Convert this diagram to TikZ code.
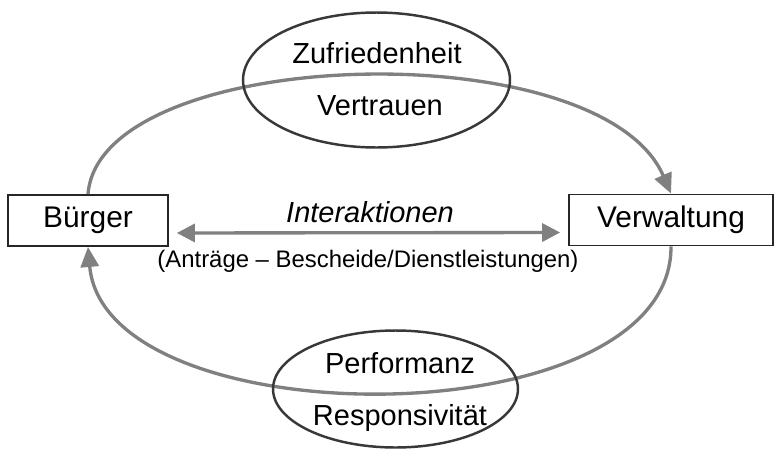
\documentclass[tikz,border=0pt]{standalone}
\usepackage{fontspec}
\setmainfont{Liberation Sans}
\usetikzlibrary{shapes.geometric, arrows.meta}

\begin{document}
\begin{tikzpicture}[x=0.02cm, y=-0.02cm,
  actor/.style={draw=black!85, line width=1.1pt, minimum height=1.02cm, inner sep=0pt, font=\fontsize{17}{20}\selectfont},
  goal/.style={ellipse, draw=black!78, line width=1.4pt, inner sep=0pt},
  label/.style={anchor=base, font=\fontsize{16.5}{20}\selectfont},
  flow/.style={draw=black!50, line width=1.9pt, -{Triangle[length=0.4cm,width=0.36cm]}}]
  \useasboundingbox (0,0) rectangle (775,450);

  \node[actor, minimum width=3.2cm] (buerger) at (88,220.5) {Bürger};
  \node[actor, minimum width=4.08cm] (verwaltung) at (671,220) {Verwaltung};

  % feedback loop
  \draw[flow] (buerger.north) .. controls (100,45) and (600,30) .. (verwaltung.north);
  \draw[flow] (verwaltung.south) .. controls (672,440) and (105,440) .. (buerger.south);

  \node[goal, minimum width=5.34cm, minimum height=2.7cm] (oben) at (376.5,80) {};
  \node[label] (zufriedenheit) at (377,63) {Zufriedenheit};
  \node[label] (vertrauen) at (380,115) {Vertrauen};

  \node[goal, minimum width=4.9cm, minimum height=2.34cm] (unten) at (395.5,389) {};
  \node[label] (performanz) at (400,373) {Performanz};
  \node[label] (responsivitaet) at (400,425) {Responsivität};

  % interaktionen
  \draw[flow, {Triangle[length=0.36cm,width=0.36cm]}-{Triangle[length=0.36cm,width=0.36cm]}, shorten <=4.5pt, shorten >=4.5pt]
    ([yshift=-0.25cm]buerger.east) -- ([yshift=-0.25cm]verwaltung.west);
  \node[label, font=\fontsize{16.5}{20}\selectfont\itshape] (interaktionen) at (370,222) {Interaktionen};
  \node[label, font=\fontsize{13.6}{16}\selectfont] (beispiele) at (368,267) {(Anträge -- Bescheide/Dienstleistungen)};
\end{tikzpicture}
\end{document}
